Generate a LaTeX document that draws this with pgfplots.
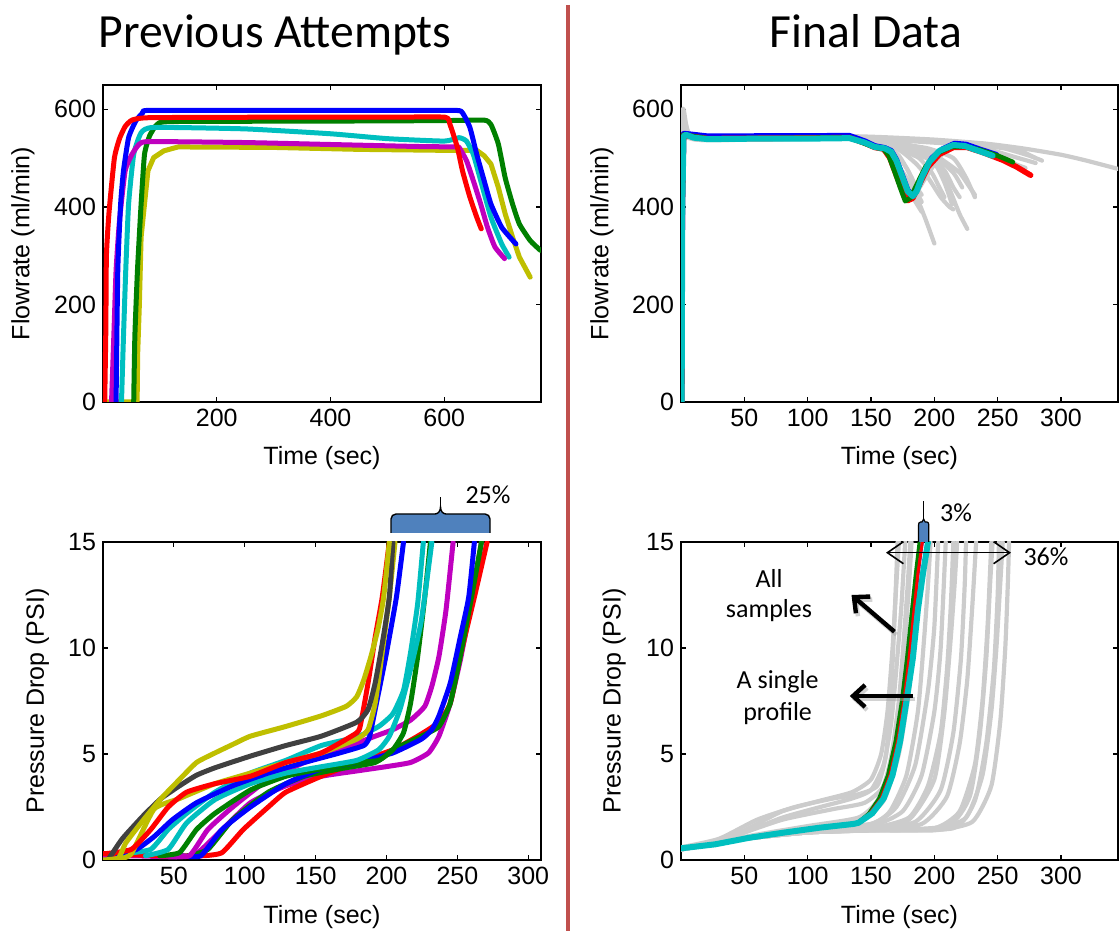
\documentclass[border=0pt]{standalone}
\usepackage{fontspec}
\setmainfont{Liberation Sans}
\newfontfamily\calibri{Carlito}
\usepackage{pgfplots}
\pgfplotsset{compat=1.18}
\usetikzlibrary{arrows.meta}

\definecolor{mblue}{rgb}{0,0,1}
\definecolor{mred}{rgb}{1,0,0}
\definecolor{mgreen}{rgb}{0,0.5,0}
\definecolor{mcyan}{rgb}{0,0.75,0.75}
\definecolor{mmag}{rgb}{0.75,0,0.75}
\definecolor{myel}{rgb}{0.75,0.75,0}
\definecolor{mdark}{rgb}{0.25,0.25,0.25}
\definecolor{lgray}{rgb}{0.8,0.8,0.8}
\definecolor{divred}{HTML}{C0504D}
\definecolor{boxblue}{HTML}{4F81BD}

\pgfplotsset{
  panel/.style={
    scale only axis, anchor=south west,
    axis line style={line width=0.6pt},
    tick align=inside, major tick length=2.5pt,
    tick style={black, line width=0.6pt},
    xtick pos=both, ytick pos=both,
    xticklabel pos=lower, yticklabel pos=left,
    ticklabel style={font=\fontsize{12.5}{14}\selectfont},
    label style={font=\fontsize{12.5}{14}\selectfont},
    /pgf/number format/assume math mode=true,
    /pgf/number format/1000 sep={},
    every axis plot/.append style={line join=round, line cap=round, mark=none},
  },
  gr/.style={lgray, line width=2.1pt, smooth, tension=0.35},
  thk/.style={line width=2.5pt, smooth, tension=0.3},
}

\begin{document}
\begin{tikzpicture}
\path[use as bounding box] (0,0) rectangle (559.5pt,465.5pt);

% ---------- top left: previous attempts, flowrate
\begin{axis}[panel, at={(51.5pt,264.5pt)}, width=219pt, height=158.5pt,
  xmin=0, xmax=770, ymin=0, ymax=650,
  xtick={200,400,600}, ytick={0,200,400,600},
  xlabel={Time (sec)}, ylabel={Flowrate (ml/min)},
  xlabel style={at={(axis description cs:0.5,-0.177)}, anchor=center},
  ylabel style={at={(axis description cs:-0.183,0.5)}, anchor=center}]
\addplot[line width=2.5pt, myel] coordinates {(0,0) (60,0) (61,100) (64,202) (67,338) (73,406) (79,474) (89,501) (107,515) (132,523) (300,522) (450,518) (600,516) (657,516) (670,505) (682,488) (695,440) (707,386) (720,338) (732,297) (751,256)};
\addplot[thk, mgreen] coordinates {(54,0) (56,134) (60.6,270) (67,406) (73,508) (82,546) (95,569) (120,575) (400,576) (600,577) (670,578) (682,569) (695,529) (707,460) (720,406) (732,365) (751,331) (769,311)};
\addplot[thk, mcyan] coordinates {(32.5,0) (36,134) (40,270) (45,406) (54,508) (67,552) (89,563) (250,560) (400,550) (500,540) (600,535) (626,542) (639,535) (651,508) (664,454) (682,379) (701,324) (714,297)};
\addplot[thk, mmag] coordinates {(15,0) (19,134) (23,270) (29,372) (39,474) (51,508) (64,529) (82,534) (250,532) (400,528) (550,524) (620,523) (626,522) (639,495) (651,454) (664,406) (676,358) (689,318) (706,294)};
\addplot[thk, mblue] coordinates {(23,0) (26,270) (31,406) (36,474) (45,542) (57.5,576) (70,593) (82,598) (300,598) (500,598) (620,598) (632,593) (645,563) (657,508) (670,454) (682,406) (701,358) (726,324)};
\addplot[thk, mred] coordinates {(3,0) (5,150) (6,300) (10.6,389) (20,500) (29,540) (39,565) (51,578) (82,583) (300,584) (500,584) (601,584) (610,569) (623,522) (632,474) (645,420) (657,379) (665,355)};
\end{axis}

% ---------- top right: final data, flowrate
\begin{axis}[panel, at={(340.5pt,264.5pt)}, width=218.5pt, height=158.5pt,
  xmin=0, xmax=345, ymin=0, ymax=650,
  xtick={50,100,...,300}, ytick={0,200,400,600},
  xlabel={Time (sec)}, ylabel={Flowrate (ml/min)},
  xlabel style={at={(axis description cs:0.5,-0.177)}, anchor=center},
  ylabel style={at={(axis description cs:-0.181,0.5)}, anchor=center}]
\addplot[gr] coordinates {(0.5,0) (1,560) (2,600) (4,570) (7,548) (20,540) (80,540) (130,545) (160,543) (200,538) (240,530) (270,520) (300,507) (320,495) (345,478)};
\addplot[gr] coordinates {(0.5,0) (1,550) (2,590) (5,550) (20,538) (135,542) (170,538) (210,533) (240,527) (265,518) (280,500)};
\addplot[gr] coordinates {(0.5,0) (1,550) (3,575) (6,545) (20,537) (130,540) (145,530) (160,515) (170,490) (178,460) (186,420) (193,375) (200,325)};
\addplot[gr] coordinates {(0.5,0) (1,540) (5,542) (20,537) (135,540) (155,525) (168,500) (176,460) (183,420) (190,390)};
\addplot[gr] coordinates {(0.5,0) (1,545) (5,545) (140,541) (160,532) (180,520) (195,505) (205,480) (213,430) (220,385) (226,355)};
\addplot[gr] coordinates {(0.5,0) (1,545) (5,545) (20,538) (140,541) (165,525) (185,510) (200,490) (208,450) (214,405)};
\addplot[gr] coordinates {(0.5,0) (1,545) (5,545) (20,538) (140,541) (170,530) (195,520) (215,500) (225,460) (232,420)};
\addplot[gr] coordinates {(0.5,0) (1,545) (5,545) (20,538) (140,540) (158,525) (168,495) (176,440) (182,415) (192,455) (205,505) (220,525) (240,520) (260,505) (280,490)};
\addplot[gr] coordinates {(0.5,0) (1,545) (5,545) (20,538) (140,540) (160,530) (172,505) (180,470) (186,432) (190,410)};
\addplot[gr] coordinates {(0.5,0) (1,545) (5,545) (20,538) (140,540) (180,535) (210,530) (235,525) (250,510) (262,490) (272,480)};
\addplot[gr] coordinates {(0.5,0) (1,545) (5,545) (20,538) (140,542) (175,530) (195,515) (210,490) (220,470) (228,440) (232,425)};
\addplot[gr] coordinates {(0.5,0) (1,545) (5,545) (20,538) (140,541) (170,520) (185,490) (195,460) (205,420) (212,400) (215,395)};
\addplot[gr] coordinates {(20,538) (140,540) (165,520) (178,480) (186,440) (190,425)};
\addplot[gr] coordinates {(20,538) (140,540) (175,528) (195,510) (208,475) (215,440) (220,420)};
\addplot[gr] coordinates {(20,538) (140,540) (180,525) (200,505) (215,470) (222,440)};
\addplot[gr] coordinates {(20,538) (140,541) (200,535) (230,528) (255,520) (275,505) (285,495)};
\addplot[gr] coordinates {(20,540) (140,540) (160,528) (175,515) (188,500) (198,470) (204,440) (208,420)};
\addplot[line width=2.8pt, mblue] coordinates {(0.5,0) (1,400) (2,550) (4,550) (21,545) (133,546) (145,535) (153,525) (161,521) (166,515) (170,497) (175,462) (179,434) (183,424) (187,440) (192,470) (198,500) (206,518) (216,530) (225,528) (236,518) (249,507)};
\addplot[line width=2.8pt, mred] coordinates {(0.5,0) (1,400) (2,547) (21,540) (133,542) (145,531) (153,522) (160,519) (165,500) (170,465) (175,432) (179,413) (183,418) (188,445) (195,482) (204,508) (215,522) (226,522) (238,512) (254,496) (265,482) (276,465)};
\addplot[line width=2.4pt, mgreen] coordinates {(0.5,0) (1,400) (2,548) (21,540) (133,542) (145,530) (153,522) (160,519) (164,505) (169,470) (173,440) (177,412) (181,418) (186,445) (193,482) (202,510) (213,523) (224,524) (236,517) (250,505) (262,492)};
\addplot[line width=3pt, mcyan] coordinates {(0.5,0) (1,400) (2,545) (4,548) (10,542) (21,539) (60,540) (100,540) (133,541) (145,532) (153,523) (161,520) (166,513) (170,495) (175,460) (179,432) (183,422) (186,432) (190,460) (196,492) (204,515) (215,527) (224,525) (235,515) (246,505)};
\end{axis}

% ---------- bottom left: previous attempts, pressure drop
\begin{axis}[panel, at={(51.5pt,35.5pt)}, width=219pt, height=159pt,
  xmin=0, xmax=309, ymin=0, ymax=15,
  xtick={50,100,...,300}, ytick={0,5,10,15},
  xlabel={Time (sec)}, ylabel={Pressure Drop (PSI)},
  xlabel style={at={(axis description cs:0.5,-0.179)}, anchor=center},
  ylabel style={at={(axis description cs:-0.150,0.5)}, anchor=center}]
\addplot[thk, mmag] coordinates {(0,0.15) (20,0.2) (50,0.15) (65,0.25) (79,1.1) (104,2.7) (129,3.5) (154,3.95) (179,4.2) (199.5,4.4) (217,4.6) (229.6,5.05) (237,5.84) (245,7.4) (252,9.4) (258,11.5) (263,13.4) (267,15)};
\addplot[thk, mred] coordinates {(0,0.3) (40,0.2) (70,0.2) (84,0.35) (99,1.44) (116.6,2.5) (129,3.2) (154,3.95) (179,4.6) (204.5,5.2) (222,5.84) (237,6.5) (245,7.4) (252,9.6) (262,12.4) (271,15)};
\addplot[thk, mgreen] coordinates {(60,0.2) (74,0.5) (91.5,1.9) (116.6,3.2) (142,3.95) (167,4.3) (192,4.6) (204.5,5.2) (224.6,5.84) (237,6.3) (245,7.4) (252,9.6) (260,12.4) (267,15)};
\addplot[thk, mblue] coordinates {(55,0.2) (69,0.2) (84,1.44) (104,2.5) (129,3.6) (154,4.3) (179,4.6) (204.5,5.05) (224.6,5.7) (232,6.15) (237,6.8) (245,8.35) (252,10.5) (258,12.4) (262,15)};
\addplot[thk, mmag] coordinates {(45,0.2) (61,0.2) (74,1.44) (91.5,2.5) (116.6,3.8) (142,4.6) (167,5.2) (192,5.84) (204.5,6.15) (217,6.6) (227,7.25) (232,8.2) (237,9.6) (242,11.8) (247,15)};
\addplot[thk, mgreen] coordinates {(40,0.2) (54,0.35) (66,1.44) (79,2.2) (104,3.3) (129,3.95) (154,4.3) (179,4.6) (194.5,4.7) (204.5,5.2) (212,6) (217,7.4) (222,9.6) (227,12.4) (231,15)};
\addplot[thk, mcyan] coordinates {(30,0.2) (46,0.5) (59,1.75) (79,2.85) (104,3.6) (129,4.1) (154,4.4) (179,4.7) (194.5,5.2) (202,5.84) (209.5,7.1) (217,9) (224.6,11.3) (232,15)};
\addplot[thk, mcyan] coordinates {(15,0.3) (33.7,0.5) (46,1.44) (59,2.2) (79,3.2) (104,4.1) (129,4.7) (154,5.4) (179,5.8) (194.5,6.3) (204.5,6.9) (212,8) (217,9.8) (222,12.1) (226,15)};
\addplot[thk, mblue] coordinates {(10,0.3) (23.6,0.5) (36,1.1) (49,1.9) (66,2.7) (91.5,3.5) (116.6,4.1) (142,4.6) (167,5.05) (184,5.4) (188,5.8) (192,7.1) (199.5,9.6) (207,12.4) (212,15)};
\addplot[thk, myel] coordinates {(10,0) (20,0.3) (36,2.4) (54,2.9) (79,3.6) (104,4.1) (129,4.6) (154,5.05) (179,5.7) (187,6.15) (192,7.4) (197,9.8) (202,12.4) (206,15)};
\addplot[thk, mred] coordinates {(2,0.3) (20,0.5) (33.7,1.44) (46,2.5) (59,3.2) (79,3.6) (104,3.95) (129,4.6) (154,5.05) (179,6) (182,6.5) (187,8.35) (192,10.5) (197,12.4) (202,15)};
\addplot[thk, mdark] coordinates {(3.5,0) (13.6,1) (28.6,2.1) (41,2.9) (54,3.5) (66,4) (79,4.35) (104,4.9) (129,5.4) (154,5.84) (179,6.5) (187,7.1) (192,8.35) (197,10.2) (202,12.4) (204.5,15)};
\addplot[thk, myel] coordinates {(0,0) (11,0.1) (16,0.8) (28.6,1.9) (41,2.9) (54,3.8) (66,4.6) (79,5.05) (91.5,5.45) (104,5.84) (129,6.3) (154,6.8) (171.6,7.25) (179,7.7) (184,8.5) (189,9.6) (194,10.9) (198,12.4) (202,15)};
\end{axis}

% ---------- bottom right: final data, pressure drop
\begin{axis}[panel, at={(340.5pt,35.5pt)}, width=218.5pt, height=159pt,
  xmin=0, xmax=345, ymin=0, ymax=15,
  xtick={50,100,...,300}, ytick={0,5,10,15},
  xlabel={Time (sec)}, ylabel={Pressure Drop (PSI)},
  xlabel style={at={(axis description cs:0.5,-0.179)}, anchor=center},
  ylabel style={at={(axis description cs:-0.153,0.5)}, anchor=center}]
\addplot[gr] coordinates {(0,0.6) (20,0.7) (50,1.4) (80,2.3) (110,2.8) (135,3.2) (150,3.8) (158,5) (163,7) (167,10) (170,13) (172,15)};
\addplot[gr] coordinates {(0,0.6) (30,1.0) (60,1.9) (90,2.5) (120,2.9) (140,3.1) (155,3.5) (162,5) (166,8) (169,12) (171,15)};
\addplot[gr] coordinates {(0,0.6) (20,0.7) (50,1.3) (80,2.0) (110,2.5) (135,2.9) (150,3.3) (160,4.5) (166,6.5) (170,9) (174,12) (177,15)};
\addplot[gr] coordinates {(0,0.5) (25,0.8) (60,1.2) (100,1.6) (140,2.0) (155,2.8) (165,4.5) (172,7.5) (176,10.5) (179,13) (181,15)};
\addplot[gr] coordinates {(0,0.5) (40,1.1) (80,1.9) (120,2.4) (145,2.7) (160,3.5) (168,5.5) (175,9) (180,13) (182,15)};
\addplot[gr] coordinates {(0,0.5) (50,1.0) (100,1.4) (140,1.8) (160,2.8) (172,5) (180,8) (185,11) (189,15)};
\addplot[gr] coordinates {(0,0.55) (60,1.1) (110,1.5) (150,1.7) (165,2.3) (178,4) (187,7) (192,10.5) (195,13) (197,15)};
\addplot[gr] coordinates {(0,0.5) (50,1.0) (100,1.4) (150,1.7) (170,2.5) (185,4.5) (195,8) (200,11) (203,15)};
\addplot[gr] coordinates {(0,0.5) (50,1.0) (100,1.35) (150,1.6) (175,2.3) (190,4) (200,7) (205,10) (209,15)};
\addplot[gr] coordinates {(0,0.5) (50,1.0) (100,1.3) (150,1.5) (180,2) (195,3.5) (205,6) (210,9) (213,12) (215,15)};
\addplot[gr] coordinates {(0,0.5) (50,1.0) (100,1.35) (150,1.5) (180,1.9) (200,3.8) (208,7) (213,10.5) (216,13) (218,15)};
\addplot[gr] coordinates {(0,0.5) (50,1.0) (100,1.3) (150,1.5) (185,1.8) (205,3.3) (215,6) (221,9.5) (224,13) (225,15)};
\addplot[gr] coordinates {(0,0.5) (50,1.0) (100,1.3) (150,1.45) (190,1.7) (210,3) (220,5.5) (226,8.5) (230,12) (233,15)};
\addplot[gr] coordinates {(0,0.5) (50,1.0) (100,1.3) (150,1.4) (200,1.5) (220,2.3) (232,4.5) (238,7.5) (242,11) (245,15)};
\addplot[gr] coordinates {(0,0.5) (50,1.0) (100,1.3) (150,1.4) (210,1.6) (228,3) (236,6) (241,9.5) (244,13) (246,15)};
\addplot[gr] coordinates {(0,0.5) (50,1.0) (100,1.3) (150,1.4) (215,1.5) (232,2.8) (241,5.5) (247,9) (250,12.5) (251,15)};
\addplot[gr] coordinates {(0,0.5) (50,1.0) (100,1.3) (150,1.4) (200,1.45) (225,2) (238,4) (245,7) (249,10) (252,13) (254,15)};
\addplot[gr] coordinates {(0,0.5) (50,1.0) (100,1.3) (150,1.4) (200,1.4) (230,1.8) (245,3.5) (252,6.5) (256,10) (258,13) (259,15)};
\addplot[line width=1.5pt, mblue] coordinates {(0,0.55) (27,0.74) (54,1.05) (81,1.29) (109,1.52) (136,1.73) (140,1.8) (149,2.2) (158,2.9) (165,4.0) (171,5.6) (176,7.5) (180,9.5) (184,11.8) (187,13.5) (190.5,15)};
\addplot[line width=1.5pt, mgreen] coordinates {(0,0.55) (27,0.74) (54,1.05) (81,1.29) (109,1.52) (136,1.73) (140,1.8) (148,2.2) (156,2.9) (163,4.0) (169,5.6) (174,7.5) (178,9.5) (182,11.8) (185,13.5) (188,15)};
\addplot[line width=1.5pt, mred] coordinates {(0,0.55) (27,0.74) (54,1.05) (81,1.29) (109,1.52) (136,1.73) (140,1.8) (149,2.2) (158,2.9) (165,4.0) (171,5.6) (176,7.5) (180,9.5) (184,11.8) (187,13.5) (190.5,15)};
\addplot[line width=3pt, mcyan] coordinates {(0,0.55) (27,0.74) (54,1.05) (81,1.29) (109,1.52) (136,1.7) (140,1.75) (151,2.2) (160,2.9) (167,4.0) (173,5.6) (178,7.5) (183,9.5) (187,11.8) (191,13.5) (195,15)};
\end{axis}

% ---------- titles, divider and notes, in pixel units of the reference
\begin{scope}[shift={(0pt,465.5pt)}, x=0.5pt, y=-0.5pt]
\node[font=\calibri\fontsize{23.8}{28}\selectfont, anchor=base] at (275,48) {Previous Attempts};
\node[font=\calibri\fontsize{23.8}{28}\selectfont, anchor=base] at (866,48) {Final Data};
\draw[divred, line width=2pt] (568,5) -- (568,940);

% 25% brace
\filldraw[fill=boxblue, draw=black, line width=0.7pt] (391,533) -- (391,519) to[out=90,in=180] (396,514) -- (435,514) to[out=0,in=-90] (440.5,507) to[out=-90,in=180] (446,514) -- (485,514) to[out=0,in=90] (490,519) -- (490,533);
\draw[line width=0.7pt] (440.5,507) -- (440.5,497);
\node[font=\calibri\fontsize{13}{15}\selectfont] at (488,495) {25\%};

% 3% brace
\filldraw[fill=boxblue, draw=black, line width=0.6pt] (918.5,542) -- (918.5,525) to[out=90,in=180] (920.5,522) -- (922,522) -- (923.6,519) -- (925.2,522) -- (927,522) to[out=0,in=90] (928.8,525) -- (928.8,542);
\draw[line width=0.6pt] (923.6,519) -- (923.6,501);
\node[font=\calibri\fontsize{13}{15}\selectfont] at (956,513) {3\%};

% 36% spread
\draw[line width=0.8pt, {Straight Barb[length=8pt,width=11pt]}-{Straight Barb[length=8pt,width=11pt]}] (886,552.7) -- (1011,552.7);
\node[font=\calibri\fontsize{13}{15}\selectfont] at (1046,557) {36\%};

% arrows with text
\node[font=\calibri\fontsize{13}{15}\selectfont] at (769,578) {All};
\node[font=\calibri\fontsize{13}{15}\selectfont] at (769,611) {samples};
\node[font=\calibri\fontsize{13}{15}\selectfont] at (777.6,681.7) {A single};
\node[font=\calibri\fontsize{13}{15}\selectfont] at (777.6,713.3) {profile};
\draw[black!35, opacity=0.5, line width=2.2pt, -{Straight Barb[length=6pt,width=11pt]}] (896.4,634.7) -- (853.5,598);
\draw[black!35, opacity=0.5, line width=2.2pt, -{Straight Barb[length=6pt,width=11pt]}] (915.3,699) -- (851.8,699);
\draw[black, line width=2.2pt, -{Straight Barb[length=6pt,width=11pt]}] (894.4,631.7) -- (851.5,595);
\draw[black, line width=2.2pt, -{Straight Barb[length=6pt,width=11pt]}] (913.3,696) -- (849.8,696);
\end{scope}
\end{tikzpicture}
\end{document}
